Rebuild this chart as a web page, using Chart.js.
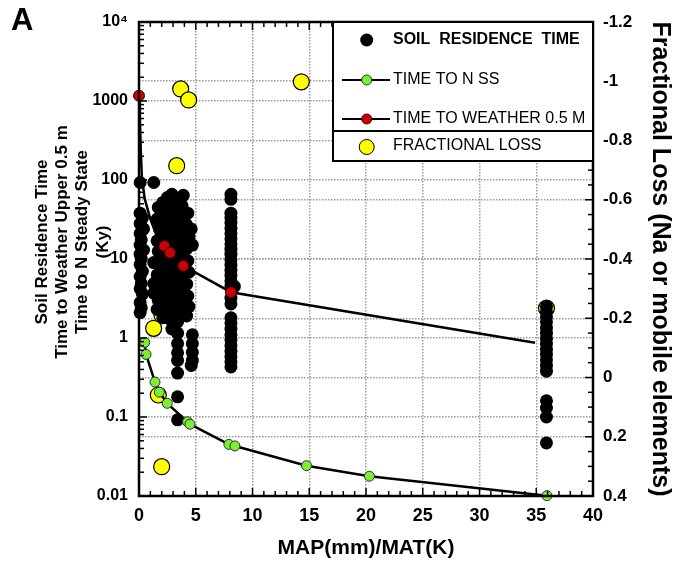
<!DOCTYPE html>
<html><head><meta charset="utf-8">
<script src="https://cdn.jsdelivr.net/npm/chart.js@4/dist/chart.umd.min.js"></script>
<style>html,body{margin:0;padding:0;background:#fff;}canvas{display:block;}</style>
</head><body>
<canvas id="c" width="677" height="570"></canvas>
<script>
const FONT = "'Liberation Sans', Arial, Helvetica, sans-serif";

// ---- Soil residence time (black dots), left log axis ----
const soilX = [
  0.1,0.1,0.3,0.1,0.4,0.1,0.2,0.1,0.4,0.1,0.2,0.1,0.3,0.1,0.2,0.1,0.3,0.1,0.2,0.1,
  1.3,1.3,1.3,1.3,
  1.7,1.6,1.8,1.6,1.7,1.8,1.6,1.7,1.6,
  2.1,2.0,2.2,2.0,2.1,2.2,2.0,2.1,2.0,2.1,
  2.5,2.4,2.6,2.5,2.4,2.6,2.5,2.4,2.6,2.5,2.4,
  2.9,2.8,3.0,2.8,2.9,3.0,2.8,2.9,3.0,2.8,2.9,2.8,2.9,
  3.2,3.1,3.3,3.1,3.2,3.3,3.1,3.2,3.3,3.1,3.2,
  3.5,3.4,3.6,3.4,3.5,3.6,3.4,3.5,3.4,3.4,3.4,3.4,3.4,3.4,3.4,3.4,3.4,3.4,
  3.9,3.8,4.0,3.8,3.9,4.0,3.8,3.9,4.0,3.8,3.9,
  4.3,4.2,4.4,4.2,4.3,4.4,4.2,4.3,4.4,4.2,
  4.6,4.7,4.7,4.7,4.7,4.7,4.6,
  8.1,8.1,8.1,8.1,8.1,8.1,8.1,8.1,8.1,8.1,8.1,8.1,8.1,8.1,8.1,8.1,8.1,8.1,8.1,8.1,8.1,8.1,8.1,8.1,8.1,8.1,8.1,8.1,8.1,8.4,
  35.9,35.9,35.9,35.9,35.9,35.9,35.9,35.9,35.9,35.9,35.9,35.9,35.9,35.9,35.9,35.9,35.9
];
const soilY = [
  93,38,33,28,24,21,17.5,15,13,11.5,10,8.5,7,6,4.9,4.2,3.6,2.8,2.4,2.1,
  93,9,4.9,3.7,
  45,32,24,17,12.5,8.8,6.3,3.0,2.3,
  52,38,28,20,10.5,7.5,5.3,3.8,2.7,1.8,
  60,44,31,22,16,11,8,5.8,4.1,2.9,2.1,
  66,48,35,25,18,13,9.5,6.8,4.8,3.4,2.4,1.7,1.3,
  56,40,29,21,15,10.5,7.5,5.3,3.8,2.7,1.9,
  45,33,24,17,12,8.5,6,4.3,3.1,2.2,1.6,1.15,0.85,0.65,0.52,0.36,0.18,0.092,
  64,47,34,25,18,13,9.3,6.6,4.7,3.3,2.4,
  38,27,19,13.5,9.5,6.8,4.8,3.4,2.5,1.9,
  24,15,1.1,0.85,0.66,0.52,0.45,
  66,57,38,33,28.5,24.5,21,18,15.5,13.3,11.5,9.8,8.4,7.2,6.2,5.3,4.6,3.2,2.7,1.8,1.55,1.3,1.1,0.95,0.8,0.68,0.58,0.5,0.43,4.5,
  2.5,2.15,1.85,1.6,1.35,1.15,0.98,0.84,0.72,0.62,0.53,0.45,0.38,0.16,0.13,0.1,0.047
];

// ---- Time to N steady state (green), left log axis ----
const nssX = [0.5, 0.62, 1.41, 1.79, 2.49, 4.28, 4.49, 7.92, 8.45, 14.76, 20.3, 35.94];
const nssY = [0.88, 0.62, 0.277, 0.206, 0.149, 0.087, 0.081, 0.045, 0.043, 0.0242, 0.0178, 0.0101];

// ---- Time to weather 0.5 m (red markers + traced curve), left log axis ----
const weatherX = [0, 2.23, 2.73, 3.9, 8.1];
const weatherY = [1166, 14.6, 12.0, 8.2, 3.8];
const weatherCurveX = [0, 0.08, 0.15, 0.25, 0.5, 1.0, 1.7, 2.23, 2.73, 3.9, 8.1, 34.9];
const weatherCurveY = [1166, 600, 250, 110, 58, 32, 17.5, 14.6, 12.0, 8.2, 3.8, 0.87];

// ---- Fractional loss (yellow), right linear axis ----
const lossX = [3.67, 4.37, 14.3, 3.32, 3.3, 1.9, 2.1, 2.02, 1.29, 3.93, 1.7, 2.0, 35.9];
const lossY = [-0.974, -0.937, -0.998, -0.715, -0.51, -0.345, -0.30, -0.211, -0.166, -0.222, 0.059, 0.301, -0.234];

// ---- Axis ticks / labels ----
const xTicks = [0, 5, 10, 15, 20, 25, 30, 35, 40];
const leftTickValues = [0.01, 0.1, 1, 10, 100, 1000, 10000];
const leftTickLabels = ['0.01', '0.1', '1', '10', '100', '1000', '10\u2074'];
const rightTickValues = [-1.2, -1, -0.8, -0.6, -0.4, -0.2, 0, 0.2, 0.4];
const rightTickLabels = ['-1.2', '-1', '-0.8', '-0.6', '-0.4', '-0.2', '0', '0.2', '0.4'];
const legendLabels = ['SOIL  RESIDENCE  TIME', 'TIME TO N SS', 'TIME TO WEATHER 0.5 M', 'FRACTIONAL LOSS'];
const leftTitleLines = ['Soil Residence Time', 'Time to Weather Upper 0.5 m', 'Time to N Steady State', '(Ky)'];
const xTitle = 'MAP(mm)/MAT(K)';
const rightTitle = 'Fractional Loss (Na or mobile elements)';
const panelLabel = 'A';

const pts = (xs, ys) => xs.map((x, i) => ({x: x, y: ys[i]}));

const GREEN = '#80ee30', RED = '#cc0000', YELLOW = '#ffff00';

const decor = {
  id: 'decor',
  afterDraw(chart) {
    const ctx = chart.ctx, a = chart.chartArea;
    const xs = chart.scales.x, yl = chart.scales.y, yr = chart.scales.y2;
    const line = (x1, y1, x2, y2) => { ctx.beginPath(); ctx.moveTo(x1, y1); ctx.lineTo(x2, y2); ctx.stroke(); };
    ctx.save();
    ctx.strokeStyle = '#000';
    ctx.lineWidth = 1.5;
    for (let v = 0; v <= 40; v++) {
      const px = xs.getPixelForValue(v);
      const len = v % 5 === 0 ? 8 : 5;
      line(px, a.bottom, px, a.bottom - len);
      line(px, a.top, px, a.top + len);
    }
    for (let d = -2; d <= 4; d++) {
      for (let k = 1; k <= 9; k++) {
        const v = k * Math.pow(10, d);
        if (v > 10001) break;
        const py = yl.getPixelForValue(v);
        line(a.left, py, a.left + (k === 1 ? 8 : 5), py);
      }
    }
    for (let i = 0; i <= 32; i++) {
      const v = -1.2 + i * 0.05;
      const py = yr.getPixelForValue(v);
      line(a.right, py, a.right - (i % 4 === 0 ? 8 : 5), py);
    }
    ctx.lineWidth = 2.5;
    ctx.strokeRect(a.left, a.top, a.right - a.left, a.bottom - a.top);

    // legend box
    const bx = 333, by = a.top, bw = a.right - 333, bh = 139;
    ctx.fillStyle = '#fff';
    ctx.fillRect(bx, by, bw, bh);
    ctx.lineWidth = 2;
    ctx.strokeRect(bx, by, bw, bh);
    line(bx, by + 109, bx + bw, by + 109);
    ctx.save();
    ctx.beginPath(); ctx.rect(bx, by, bw - 1, bh); ctx.clip();
    const mx = 366.7, tx = 393;
    const dot = (x, y, r, fill, stroke) => {
      ctx.beginPath(); ctx.arc(x, y, r, 0, Math.PI * 2);
      ctx.fillStyle = fill; ctx.fill();
      if (stroke) { ctx.lineWidth = 1; ctx.strokeStyle = stroke; ctx.stroke(); }
    };
    dot(mx, 40, 6.5, '#000');
    ctx.strokeStyle = '#000'; ctx.lineWidth = 2;
    line(342, 80, 390, 80);
    dot(mx, 80, 5, GREEN, '#234');
    ctx.strokeStyle = '#000'; ctx.lineWidth = 2;
    line(342, 119, 390, 119);
    dot(mx, 119, 5, RED, '#300');
    dot(mx, 147, 7.5, YELLOW, '#000');
    ctx.fillStyle = '#000';
    ctx.textAlign = 'left'; ctx.textBaseline = 'alphabetic';
    ctx.font = 'bold 16px ' + FONT;
    ctx.fillText(legendLabels[0], tx, 44);
    ctx.font = '16px ' + FONT;
    ctx.fillText(legendLabels[1], tx, 84);
    ctx.fillText(legendLabels[2], tx, 123);
    ctx.fillText(legendLabels[3], tx, 150);
    ctx.restore();

    // panel label
    ctx.fillStyle = '#000';
    ctx.font = 'bold 31px ' + FONT;
    ctx.textAlign = 'left'; ctx.textBaseline = 'alphabetic';
    ctx.fillText(panelLabel, 11, 30);

    // left axis title (multi-line, rotated)
    ctx.font = 'bold 17px ' + FONT;
    ctx.textAlign = 'center'; ctx.textBaseline = 'middle';
    leftTitleLines.forEach((t, i) => {
      ctx.save();
      ctx.translate(42 + i * 20.4, 242);
      ctx.rotate(-Math.PI / 2);
      ctx.fillText(t, 0, 0);
      ctx.restore();
    });
    ctx.restore();
  }
};

const gridColor = '#9a9a9a';
const gridDash = [1.5, 1.5];

new Chart(document.getElementById('c'), {
  type: 'scatter',
  data: {
    datasets: [
      { label: legendLabels[1], data: pts(nssX, nssY), showLine: true, borderColor: '#000', borderWidth: 2.5,
        pointBackgroundColor: GREEN, pointBorderColor: '#234', pointBorderWidth: 1, pointRadius: 5,
        tension: 0, yAxisID: 'y', order: 1, clip: false },
      { label: legendLabels[2], data: pts(weatherX, weatherY), showLine: false,
        pointBackgroundColor: RED, pointBorderColor: '#300', pointBorderWidth: 1, pointRadius: 5.5,
        yAxisID: 'y', order: 2, clip: false },
      { label: 'weather curve', data: pts(weatherCurveX, weatherCurveY), showLine: true, borderColor: '#000',
        borderWidth: 2.5, pointRadius: 0, tension: 0, yAxisID: 'y', order: 3, clip: false },
      { label: legendLabels[0], data: pts(soilX, soilY), pointBackgroundColor: '#000', pointBorderWidth: 0,
        pointRadius: 6.5, yAxisID: 'y', order: 4, clip: false },
      { label: legendLabels[3], data: pts(lossX, lossY), pointBackgroundColor: YELLOW, pointBorderColor: '#000',
        pointBorderWidth: 1.2, pointRadius: 8, yAxisID: 'y2', order: 5, clip: false }
    ]
  },
  options: {
    responsive: false,
    devicePixelRatio: 1,
    animation: false,
    events: [],
    layout: { padding: { top: 22, left: 0, right: 0, bottom: 0 } },
    plugins: { legend: { display: false }, tooltip: { enabled: false }, title: { display: false } },
    scales: {
      x: {
        type: 'linear', position: 'bottom', min: 0, max: 40,
        afterBuildTicks: s => { s.ticks = xTicks.map(v => ({value: v})); },
        afterFit: s => { s.height = 74; },
        ticks: { color: '#000', padding: 9, font: { family: FONT, size: 18, weight: 'bold' },
                 callback: v => String(v), maxRotation: 0 },
        grid: { color: gridColor, lineWidth: 1.5, drawTicks: false },
        border: { display: false, dash: gridDash },
        title: { display: true, text: xTitle, color: '#000', font: { family: FONT, size: 21, weight: 'bold' },
                 padding: { top: 0, bottom: 9 } }
      },
      y: {
        type: 'logarithmic', position: 'left', min: 0.01, max: 10000,
        afterBuildTicks: s => { s.ticks = leftTickValues.map(v => ({value: v})); },
        afterFit: s => { s.width = 139; },
        ticks: { color: '#000', padding: 11, font: { family: FONT, size: 16, weight: 'bold' },
                 callback: (v) => { const i = leftTickValues.findIndex(t => Math.abs(t - v) / t < 1e-6); return i >= 0 ? leftTickLabels[i] : ''; } },
        grid: { color: gridColor, lineWidth: 1.5, drawTicks: false },
        border: { display: false, dash: gridDash }
      },
      y2: {
        type: 'linear', position: 'right', min: -1.2, max: 0.4, reverse: true,
        afterBuildTicks: s => { s.ticks = rightTickValues.map(v => ({value: v})); },
        afterFit: s => { s.width = 84; },
        ticks: { color: '#000', padding: 10, font: { family: FONT, size: 17, weight: 'bold' },
                 callback: (v) => { const i = rightTickValues.findIndex(t => Math.abs(t - v) < 1e-6); return i >= 0 ? rightTickLabels[i] : ''; } },
        grid: { color: gridColor, lineWidth: 1.5, drawTicks: false, drawOnChartArea: true },
        border: { display: false, dash: gridDash },
        title: { display: true, text: rightTitle, color: '#000', font: { family: FONT, size: 25, weight: 'bold' },
                 padding: { top: 2, bottom: 0 } }
      }
    }
  },
  plugins: [decor]
});
</script>
</body></html>
